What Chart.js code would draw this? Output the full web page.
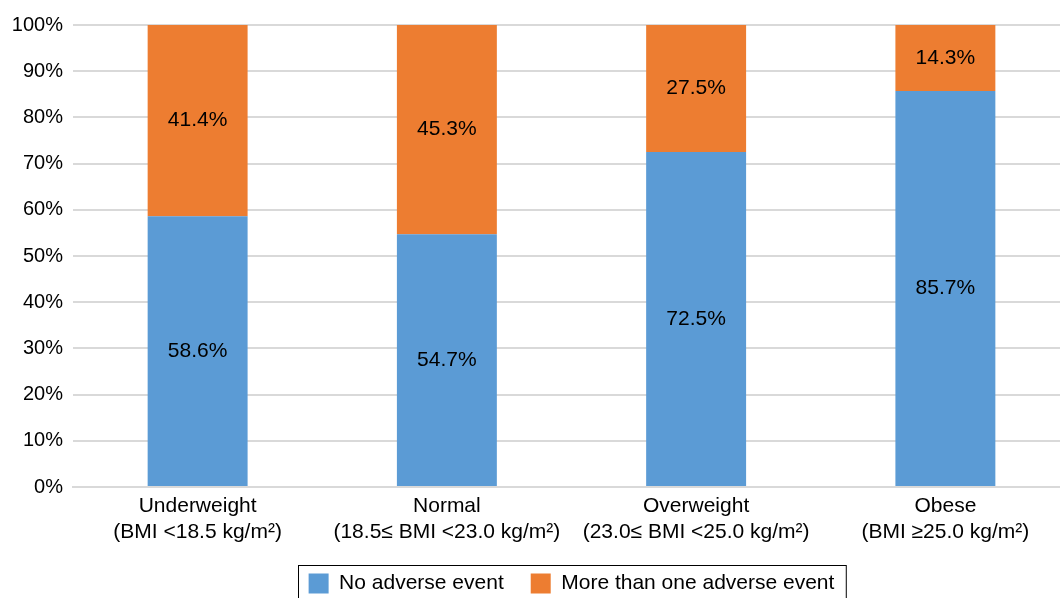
<!DOCTYPE html>
<html>
<head>
<meta charset="utf-8">
<script src="https://cdn.jsdelivr.net/npm/chart.js@4"></script>
<style>
  html, body { margin: 0; padding: 0; background: #fff; overflow: hidden; }
  #clip { width: 1060px; height: 598px; overflow: hidden; }
  #wrap { width: 1070px; height: 598px; }
</style>
</head>
<body>
<div id="clip"><div id="wrap"><canvas id="bmiChart"></canvas></div></div>
<script>
const categories = [
  ['Underweight', '(BMI <18.5 kg/m²)'],
  ['Normal', '(18.5≤ BMI <23.0 kg/m²)'],
  ['Overweight', '(23.0≤ BMI <25.0 kg/m²)'],
  ['Obese', '(BMI ≥25.0 kg/m²)'],
];
const noAdverse = [58.6, 54.7, 72.5, 85.7];
const moreThanOne = [41.4, 45.3, 27.5, 14.3];
const seriesNames = ['No adverse event', 'More than one adverse event'];

const FONT = '"Liberation Sans", Arial, sans-serif';

// write the percentage in the middle of every segment
const segmentLabels = {
  id: 'segmentLabels',
  afterDatasetsDraw: (chart) => {
    const { ctx } = chart;
    ctx.save();
    ctx.font = `21px ${FONT}`;
    ctx.fillStyle = '#000';
    ctx.textAlign = 'center';
    ctx.textBaseline = 'middle';
    chart.data.datasets.forEach((ds, i) => {
      chart.getDatasetMeta(i).data.forEach((bar, j) => {
        const mid = (bar.y + bar.base) / 2;
        ctx.fillText(`${ds.data[j].toFixed(1)}%`, bar.x, mid);
      });
    });
    ctx.restore();
  },
};

// thin frame round the legend
const legendFrame = {
  id: 'legendFrame',
  afterDraw: (chart) => {
    const boxes = chart.legend.legendHitBoxes;
    if (!boxes || !boxes.length) return;
    const left = boxes[0].left - 11;
    const last = boxes[boxes.length - 1];
    const right = last.left + last.width + 11;
    const top = boxes[0].top - 8;
    const bottom = boxes[0].top + boxes[0].height + 12;
    const { ctx } = chart;
    ctx.save();
    ctx.strokeStyle = '#000';
    ctx.lineWidth = 1;
    ctx.strokeRect(Math.round(left) + 0.5, Math.round(top) + 0.5, right - left, bottom - top);
    ctx.restore();
  },
};

const ctx = document.getElementById('bmiChart').getContext('2d');
// eslint-disable-next-line no-undef
const chart = new Chart(ctx, {
  type: 'bar',
  data: {
    labels: categories,
    datasets: [
      {
        label: seriesNames[0],
        data: noAdverse,
        backgroundColor: '#5b9bd5',
        barPercentage: 0.401,
        categoryPercentage: 1,
      },
      {
        label: seriesNames[1],
        data: moreThanOne,
        backgroundColor: '#ed7d31',
        barPercentage: 0.401,
        categoryPercentage: 1,
      },
    ],
  },
  options: {
    responsive: true,
    maintainAspectRatio: false,
    animation: false,
    layout: { padding: { top: 25, right: 0, left: 0, bottom: -6 } },
    plugins: {
      tooltip: { enabled: false },
      legend: {
        position: 'bottom',
        fullSize: false,
        labels: {
          boxWidth: 20,
          boxHeight: 20,
          padding: 27,
          color: '#000',
          font: { family: FONT, size: 21 },
        },
      },
    },
    scales: {
      x: {
        stacked: true,
        grid: { display: false, drawTicks: false },
        border: { color: '#d9d9d9', width: 2 },
        ticks: {
          color: '#000',
          padding: 7,
          maxRotation: 0,
          autoSkip: false,
          font: { family: FONT, size: 21, lineHeight: 1.2 },
        },
        afterFit: (scale) => { scale.height = 59; },
      },
      y: {
        stacked: true,
        min: 0,
        max: 100,
        grid: { color: '#d9d9d9', lineWidth: 2, drawTicks: false },
        border: { display: false },
        ticks: {
          stepSize: 10,
          color: '#000',
          padding: 10,
          font: { family: FONT, size: 20 },
          callback: (v) => `${v}%`,
        },
        afterFit: (scale) => { scale.width = 73; },
      },
    },
  },
  plugins: [segmentLabels, legendFrame],
});
</script>
</body>
</html>
